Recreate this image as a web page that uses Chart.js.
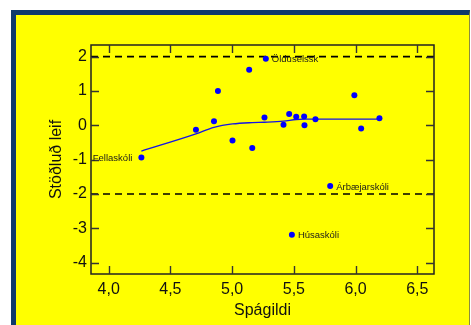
<!DOCTYPE html>
<html>
<head>
<meta charset="utf-8">
<script src="https://cdn.jsdelivr.net/npm/chart.js@4.4.1/dist/chart.umd.min.js"></script>
<style>
  html, body { margin: 0; padding: 0; background: #ffffff; width: 471px; height: 325px; overflow: hidden; }
  #frame { position: absolute; left: 11px; top: 10px; width: 453px; height: 330px;
           border-left: 5px solid #0f3a6b; border-top: 5px solid #0f3a6b; border-right: 1px solid #8c8c3c;
           background: #ffff00; }
  #wrap { position: absolute; left: 0; top: 0; width: 471px; height: 325px; }
</style>
</head>
<body>
<div id="frame"></div>
<div id="wrap"><canvas id="c" width="471" height="325"></canvas></div>
<script>
// ---- data ----
const predicted = [4.265, 4.707, 4.853, 4.885, 5.003, 5.138, 5.163, 5.262, 5.273, 5.416,
                   5.462, 5.519, 5.583, 5.586, 5.675, 5.484, 5.794, 5.990, 6.045, 6.193];
const residuals = [-0.94, -0.13, 0.12, 1.00, -0.44, 1.62, -0.66, 0.23, 1.94, 0.02,
                   0.33, 0.25, 0.26, 0.00, 0.18, -3.19, -1.77, 0.88, -0.09, 0.21];
const schoolLabels = ['Fellaskóli', '', '', '', '', '', '', '', 'Ölduselssk', '',
                      '', '', '', '', '', 'Húsaskóli', 'Árbæjarskóli', '', '', ''];
const labelSide = ['left', '', '', '', '', '', '', '', 'right', '',
                   '', '', '', '', '', 'right', 'right', '', '', ''];
const smoothX = [4.265, 4.707, 4.853, 5.003, 5.163, 5.262, 5.416, 5.519, 5.586, 6.193];
const smoothY = [-0.75, -0.25, -0.06, 0.04, 0.08, 0.09, 0.12, 0.17, 0.18, 0.18];
const refLevels = [2, -2];
const xRange = [3.857, 6.635];
const yRange = [-4.33, 2.34];
const xTitle = 'Spágildi';
const yTitle = 'Stöðluð leif';

const FONT = "'Liberation Sans', Arial, sans-serif";

const scatterData = predicted.map((x, i) => ({ x: x, y: residuals[i] }));
const smoothData = smoothX.map((x, i) => ({ x: x, y: smoothY[i] }));
const refSets = refLevels.map(v => ({
  type: 'line',
  data: [{ x: xRange[0], y: v }, { x: xRange[1], y: v }],
  borderColor: '#000000', borderWidth: 1.6, borderDash: [7, 5],
  pointRadius: 0, fill: false, order: 3
}));

const framePlugin = {
  id: 'framePlugin',
  afterDatasetsDraw(chart) {
    const { ctx, chartArea: a, scales: { x, y } } = chart;
    ctx.save();
    ctx.strokeStyle = '#222222';
    ctx.lineWidth = 1.5;
    ctx.strokeRect(a.left, a.top, a.right - a.left, a.bottom - a.top);
    ctx.lineWidth = 1.4;
    ctx.strokeStyle = '#333333';
    const L = 8;
    ctx.beginPath();
    x.ticks.forEach(t => {
      const px = Math.round(x.getPixelForValue(t.value)) + 0.5;
      ctx.moveTo(px, a.bottom); ctx.lineTo(px, a.bottom - L);
      ctx.moveTo(px, a.top); ctx.lineTo(px, a.top + L);
    });
    y.ticks.forEach(t => {
      const py = Math.round(y.getPixelForValue(t.value)) + 0.5;
      ctx.moveTo(a.left, py); ctx.lineTo(a.left + L, py);
      ctx.moveTo(a.right, py); ctx.lineTo(a.right - L, py);
    });
    ctx.stroke();
    // point labels
    const meta = chart.getDatasetMeta(0);
    ctx.font = '9.5px ' + FONT;
    ctx.fillStyle = '#1a1a1a';
    ctx.textBaseline = 'middle';
    meta.data.forEach((pt, i) => {
      const txt = schoolLabels[i];
      if (!txt) return;
      if (labelSide[i] === 'left') {
        ctx.textAlign = 'right';
        ctx.fillText(txt, pt.x - 9, pt.y + 1);
      } else {
        ctx.textAlign = 'left';
        ctx.fillText(txt, pt.x + 6, pt.y + 1);
      }
    });
    ctx.restore();
  }
};

new Chart(document.getElementById('c'), {
  type: 'scatter',
  data: {
    datasets: [
      { data: scatterData, backgroundColor: '#0000ff', borderColor: '#0000ff',
        pointRadius: 3, pointHoverRadius: 3, borderWidth: 0, order: 1 },
      { type: 'line', data: smoothData, borderColor: '#1414e6', borderWidth: 1.3,
        pointRadius: 0, tension: 0.3, cubicInterpolationMode: 'monotone', fill: false, order: 2 },
      ...refSets
    ]
  },
  options: {
    responsive: false,
    animation: false,
    events: [],
    layout: { padding: { left: 47, top: 45, right: 37, bottom: 5 } },
    plugins: { legend: { display: false }, tooltip: { enabled: false }, title: { display: false } },
    scales: {
      x: {
        type: 'linear', min: xRange[0], max: xRange[1],
        grid: { display: false, drawTicks: false },
        border: { display: false },
        ticks: {
          stepSize: 0.5, includeBounds: false, padding: 6, color: '#111111',
          font: { family: FONT, size: 16 },
          callback: v => v.toFixed(1).replace('.', ',')
        },
        title: { display: true, text: xTitle, color: '#111111', padding: 0,
                 font: { family: FONT, size: 16 } },
        afterFit: s => { s.height = 46; }
      },
      y: {
        type: 'linear', min: yRange[0], max: yRange[1],
        grid: { display: false, drawTicks: false },
        border: { display: false },
        ticks: {
          stepSize: 1, includeBounds: false, padding: 4, color: '#111111',
          font: { family: FONT, size: 16 },
          callback: v => String(Math.round(v))
        },
        title: { display: true, text: yTitle, color: '#111111', padding: 0,
                 font: { family: FONT, size: 16 } },
        afterFit: s => { s.width = 44; }
      }
    }
  },
  plugins: [framePlugin]
});
</script>
</body>
</html>
